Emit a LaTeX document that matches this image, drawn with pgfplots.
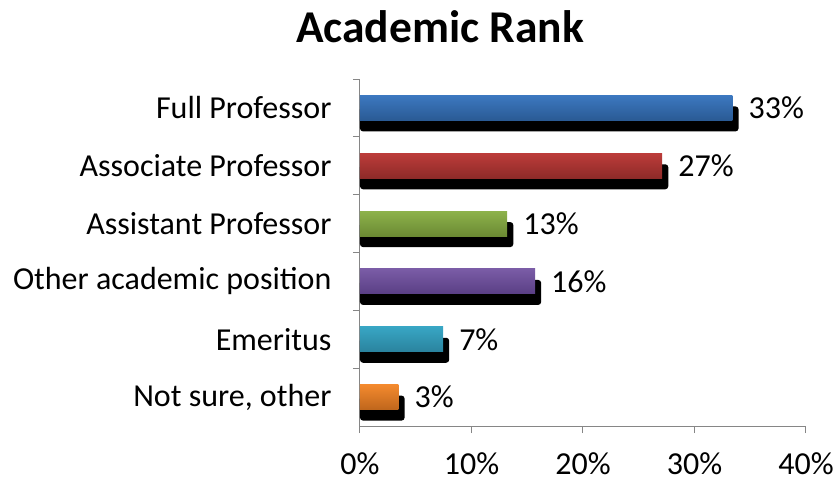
\documentclass[border=0pt]{standalone}
\usepackage{pgfplots}
\pgfplotsset{compat=1.18}
\usepackage{fontspec}
\setmainfont{Carlito}
\definecolor{axgray}{HTML}{868686}
\definecolor{bluet}{HTML}{3C78C0}\definecolor{blueb}{HTML}{2A5A94}
\definecolor{redt}{HTML}{BC3C3A}\definecolor{redb}{HTML}{8E2A28}
\definecolor{greent}{HTML}{8DB24B}\definecolor{greenb}{HTML}{6B8A33}
\definecolor{purt}{HTML}{7A5CA6}\definecolor{purb}{HTML}{5A3F85}
\definecolor{aquat}{HTML}{38A6C4}\definecolor{aquab}{HTML}{2A839E}
\definecolor{oranget}{HTML}{F48A2E}\definecolor{orangeb}{HTML}{BF661C}
\pgfplotsset{mybar/.style={xbar, bar width=25pt, bar shift=0pt, draw=none,
  point meta=x,
  nodes near coords={\pgfmathprintnumber[fixed,precision=0]{\pgfplotspointmeta}\%},
  every node near coord/.append style={font=\fontsize{32}{38}\selectfont, anchor=west, inner sep=0pt, xshift=16pt, text=black}}}
\begin{document}
\begin{tikzpicture}
\path (-360pt,-57pt) rectangle (478pt,426pt);
\begin{axis}[
  at={(0pt,0pt)}, anchor=south west,
  scale only axis, width=446pt, height=347pt,
  xmin=0, xmax=40, ymin=-0.5, ymax=5.5,
  axis x line*=bottom, axis y line*=left,
  axis line style={draw=axgray, line width=1pt},
  tick align=outside,
  major tick length=7pt, minor tick length=7pt,
  tick style={draw=axgray, line width=1pt},
  xtick={0,10,20,30,40},
  xticklabel={\pgfmathprintnumber{\tick}\%},
  ytick={0,1,2,3,4,5},
  yticklabels={{Not sure, other},Emeritus,Other academic position,Assistant Professor,Associate Professor,Full Professor},
  major y tick style={draw=none},
  minor ytick={0.5,1.5,2.5,3.5,4.5,5.5},
  minor y tick style={draw=axgray, line width=1pt},
  ticklabel style={font=\fontsize{32}{38}\selectfont},
  yticklabel style={xshift=-18pt},
  xticklabel style={yshift=-16pt},
  /pgf/number format/assume math mode=true,
  clip=false,
]
% shadows
\addplot[xbar, bar width=25pt, bar shift=-11pt, fill=black, draw=none, rounded corners=3pt]
  coordinates {(33.95,5) (27.65,4) (13.75,3) (16.25,2) (8.0,1) (4.0,0)};
% bars
\addplot[mybar, top color=bluet, bottom color=blueb] coordinates {(33.4,5)};
\addplot[mybar, top color=redt, bottom color=redb] coordinates {(27.1,4)};
\addplot[mybar, top color=greent, bottom color=greenb] coordinates {(13.2,3)};
\addplot[mybar, top color=purt, bottom color=purb] coordinates {(15.7,2)};
\addplot[mybar, top color=aquat, bottom color=aquab] coordinates {(7.45,1)};
\addplot[mybar, top color=oranget, bottom color=orangeb] coordinates {(3.45,0)};
\end{axis}
\node[font=\fontsize{45.5}{54}\selectfont\bfseries] at (80pt,399.5pt) {Academic Rank};
\end{tikzpicture}
\end{document}
